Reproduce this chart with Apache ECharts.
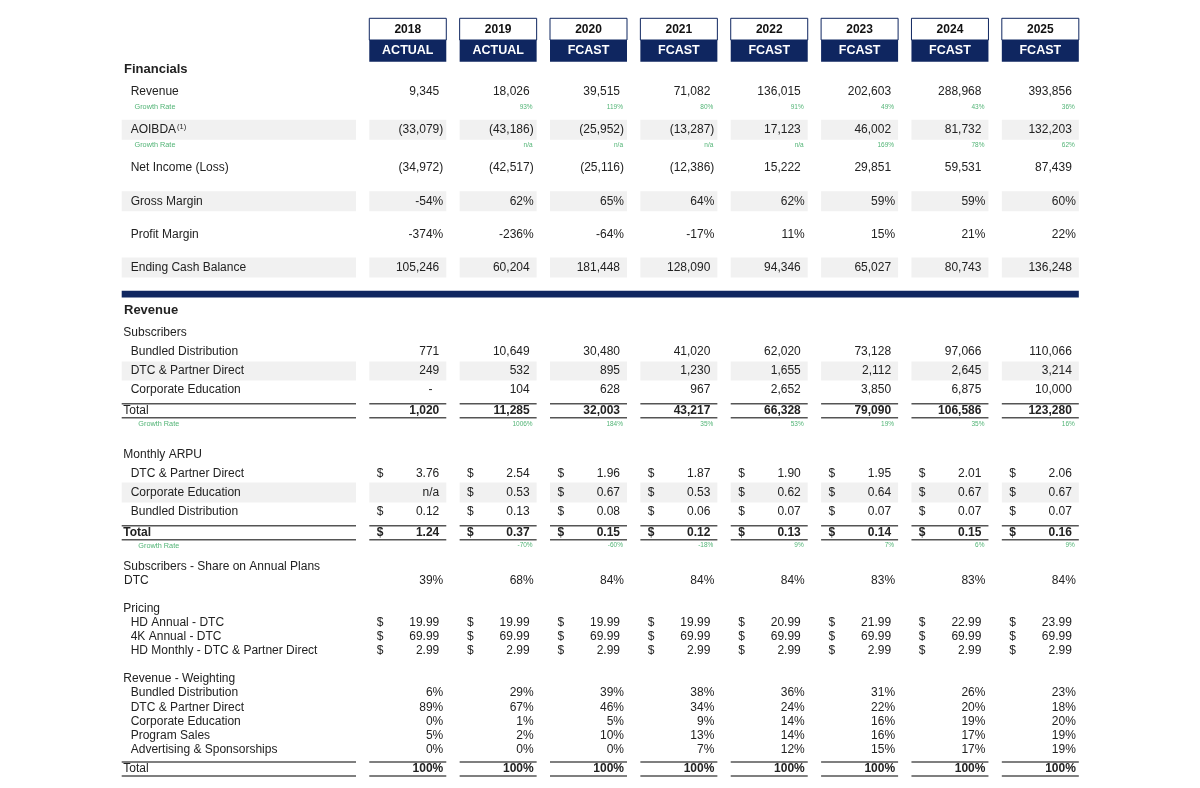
<!DOCTYPE html>
<html>
<head>
<meta charset="utf-8">
<script src="https://cdn.jsdelivr.net/npm/echarts@6/dist/echarts.min.js"></script>
<style>
html,body{margin:0;padding:0;background:#fff;}
#chart{width:1200px;height:788px;}
</style>
</head>
<body>
<div id="chart"></div>
<script>
// ---------------- DATA ----------------
const years = ['2018','2019','2020','2021','2022','2023','2024','2025'];
const phases = ['ACTUAL','ACTUAL','FCAST','FCAST','FCAST','FCAST','FCAST','FCAST'];

const revenue = [9345, 18026, 39515, 71082, 136015, 202603, 288968, 393856];
const revenueGrowth = [null, 93, 119, 80, 91, 49, 43, 36];
const aoibda = [-33079, -43186, -25952, -13287, 17123, 46002, 81732, 132203];
const aoibdaGrowth = [null, 'n/a', 'n/a', 'n/a', 'n/a', 169, 78, 62];
const netIncome = [-34972, -42517, -25116, -12386, 15222, 29851, 59531, 87439];
const grossMargin = [-54, 62, 65, 64, 62, 59, 59, 60];
const profitMargin = [-374, -236, -64, -17, 11, 15, 21, 22];
const endingCash = [105246, 60204, 181448, 128090, 94346, 65027, 80743, 136248];

const subsBundled = [771, 10649, 30480, 41020, 62020, 73128, 97066, 110066];
const subsDTC = [249, 532, 895, 1230, 1655, 2112, 2645, 3214];
const subsCorp = [0, 104, 628, 967, 2652, 3850, 6875, 10000];
const subsTotal = [1020, 11285, 32003, 43217, 66328, 79090, 106586, 123280];
const subsGrowth = [null, 1006, 184, 35, 53, 19, 35, 16];

const arpuDTC = [3.76, 2.54, 1.96, 1.87, 1.90, 1.95, 2.01, 2.06];
const arpuCorp = [null, 0.53, 0.67, 0.53, 0.62, 0.64, 0.67, 0.67];
const arpuBundled = [0.12, 0.13, 0.08, 0.06, 0.07, 0.07, 0.07, 0.07];
const arpuTotal = [1.24, 0.37, 0.15, 0.12, 0.13, 0.14, 0.15, 0.16];
const arpuGrowth = [null, -70, -60, -18, 9, 7, 6, 9];

const annualShareDTC = [39, 68, 84, 84, 84, 83, 83, 84];

const priceHDAnnual = [19.99, 19.99, 19.99, 19.99, 20.99, 21.99, 22.99, 23.99];
const price4KAnnual = [69.99, 69.99, 69.99, 69.99, 69.99, 69.99, 69.99, 69.99];
const priceHDMonthly = [2.99, 2.99, 2.99, 2.99, 2.99, 2.99, 2.99, 2.99];

const wBundled = [6, 29, 39, 38, 36, 31, 26, 23];
const wDTC = [89, 67, 46, 34, 24, 22, 20, 18];
const wCorp = [0, 1, 5, 9, 14, 16, 19, 20];
const wProgram = [5, 2, 10, 13, 14, 16, 17, 19];
const wAds = [0, 0, 0, 7, 12, 15, 17, 19];
const wTotal = [100, 100, 100, 100, 100, 100, 100, 100];

// ---------------- TABLE STRUCTURE ----------------
const rows = [
  {kind: 'header'},
  {kind: 'section', label: 'Financials'},
  {kind: 'item', label: 'Revenue', values: revenue, fmt: 'num'},
  {kind: 'growth', values: revenueGrowth, fin: true},
  {kind: 'item', label: 'AOIBDA', sup: '(1)', values: aoibda, fmt: 'num', shade: true},
  {kind: 'growth', values: aoibdaGrowth, fin: true},
  {kind: 'item', label: 'Net Income (Loss)', values: netIncome, fmt: 'num'},
  {kind: 'item', label: 'Gross Margin', values: grossMargin, fmt: 'pct', shade: true},
  {kind: 'item', label: 'Profit Margin', values: profitMargin, fmt: 'pct'},
  {kind: 'item', label: 'Ending Cash Balance', values: endingCash, fmt: 'num', shade: true},
  {kind: 'rule'},
  {kind: 'section', label: 'Revenue'},
  {kind: 'subhead', label: 'Subscribers'},
  {kind: 'item', label: 'Bundled Distribution', values: subsBundled, fmt: 'num'},
  {kind: 'item', label: 'DTC & Partner Direct', values: subsDTC, fmt: 'num', shade: true, small: true},
  {kind: 'item', label: 'Corporate Education', values: subsCorp, fmt: 'num'},
  {kind: 'total', label: 'Total', values: subsTotal, fmt: 'num'},
  {kind: 'growth', values: subsGrowth},
  {kind: 'subhead', label: 'Monthly ARPU'},
  {kind: 'item', label: 'DTC & Partner Direct', values: arpuDTC, fmt: 'usd'},
  {kind: 'item', label: 'Corporate Education', values: arpuCorp, fmt: 'usd', shade: true},
  {kind: 'item', label: 'Bundled Distribution', values: arpuBundled, fmt: 'usd'},
  {kind: 'total', label: 'Total', boldLabel: true, values: arpuTotal, fmt: 'usd'},
  {kind: 'growth', values: arpuGrowth},
  {kind: 'subhead', label: 'Subscribers - Share on Annual Plans'},
  {kind: 'item', label: 'DTC', values: annualShareDTC, fmt: 'pct', flush: true},
  {kind: 'subhead', label: 'Pricing'},
  {kind: 'item', label: 'HD Annual - DTC', values: priceHDAnnual, fmt: 'usd'},
  {kind: 'item', label: '4K Annual - DTC', values: price4KAnnual, fmt: 'usd'},
  {kind: 'item', label: 'HD Monthly - DTC & Partner Direct', values: priceHDMonthly, fmt: 'usd'},
  {kind: 'subhead', label: 'Revenue - Weighting'},
  {kind: 'item', label: 'Bundled Distribution', values: wBundled, fmt: 'pct'},
  {kind: 'item', label: 'DTC & Partner Direct', values: wDTC, fmt: 'pct'},
  {kind: 'item', label: 'Corporate Education', values: wCorp, fmt: 'pct'},
  {kind: 'item', label: 'Program Sales', values: wProgram, fmt: 'pct'},
  {kind: 'item', label: 'Advertising & Sponsorships', values: wAds, fmt: 'pct'},
  {kind: 'total', label: 'Total', values: wTotal, fmt: 'pct'}
];

// ---------------- LAYOUT (vertical spacing between row centres) ----------------
const ROW_GAPS = [40, 29.3, 22.7, 14.8, 23, 15, 23.2, 33.3, 33.3, 33, 26.5, 16.2,
  22.5, 19.2, 19, 19, 20.8, 13.5, 30.3, 19, 19, 19, 21.2, 12.8, 21.2, 13.5,
  28.7, 13.6, 14, 14, 28, 14.4, 14.3, 14.3, 13.7, 14.3, 19.4];
const rowPos = [];
ROW_GAPS.reduce((acc, g, i) => { rowPos[i] = acc + g; return acc + g; }, 0);

const FONT = "'Liberation Sans', Arial, Helvetica, sans-serif";
const NAVY = '#0f2660';
const TEXT = '#222222';
const GREEN = '#52b476';
const SHADE = '#f1f1f1';
const LINE = '#555555';
const BOX_W = 77;
const LABEL_L = 121.7, LABEL_R = 356;

const mctx = document.createElement('canvas').getContext('2d');
function tw(t, font) { mctx.font = font; return mctx.measureText(t).width; }

function fmtInt(v) { return Math.abs(v).toLocaleString('en-US'); }

function renderRow(params, api) {
  const idx = api.value(2);
  const row = rows[idx];
  const y = api.coord([0, api.value(1)])[1];
  const ch = [];
  const cols = years.map((_, c) => {
    const p = api.coord([c, api.value(1)]);
    return {cx: p[0], left: p[0] - BOX_W / 2, right: p[0] + BOX_W / 2};
  });
  const txt = (text, x, yy, font, fill, align) => ch.push({
    type: 'text',
    style: {text: text, x: x, y: yy, font: font, fill: fill || TEXT, textAlign: align || 'left', textVerticalAlign: 'middle'}
  });
  const rect = (x, yy, w, h, fill, stroke) => ch.push({
    type: 'rect', shape: {x: x, y: yy, width: w, height: h},
    style: {fill: fill, stroke: stroke || null, lineWidth: stroke ? 1 : 0}
  });
  const line = (x1, x2, yy) => ch.push({
    type: 'line', shape: {x1: x1, y1: yy, x2: x2, y2: yy},
    style: {stroke: LINE, lineWidth: 1.5}
  });

  const regular = '12px ' + FONT;
  const bold = 'bold 12px ' + FONT;

  if (row.kind === 'header') {
    cols.forEach((c, i) => {
      rect(c.left, y - 21.7, BOX_W, 21.7, '#ffffff', NAVY);
      rect(c.left, y, BOX_W, 21.7, NAVY);
      txt(years[i], c.cx, y - 10.7, 'bold 12px ' + FONT, '#111', 'center');
      txt(phases[i], c.cx, y + 10.9, 'bold 12.5px ' + FONT, '#ffffff', 'center');
    });
  } else if (row.kind === 'section') {
    txt(row.label, 124, y, 'bold 13px ' + FONT);
  } else if (row.kind === 'subhead') {
    txt(row.label, 123.3, y, regular);
  } else if (row.kind === 'rule') {
    rect(LABEL_L, y - 3.3, cols[cols.length - 1].right - LABEL_L, 6.6, NAVY);
  } else if (row.kind === 'growth') {
    txt('Growth Rate', row.fin ? 134.5 : 138.3, y, '7.3px ' + FONT, GREEN);
    row.values.forEach((v, i) => {
      if (v === null) return;
      const s = typeof v === 'string' ? v : v + '%';
      txt(s, cols[i].right - 4, y, '6.5px ' + FONT, GREEN, 'right');
    });
  } else {
    const isTotal = row.kind === 'total';
    const vf = isTotal ? bold : regular;
    if (row.shade) {
      const hh = row.small ? 9.5 : 10;
      rect(LABEL_L, y - hh, LABEL_R - LABEL_L, hh * 2, SHADE);
      cols.forEach(c => rect(c.left, y - hh, BOX_W, hh * 2, SHADE));
    }
    if (isTotal) {
      line(LABEL_L, LABEL_R, y - 7);
      line(LABEL_L, LABEL_R, y + 7);
      cols.forEach(c => { line(c.left, c.right, y - 7); line(c.left, c.right, y + 7); });
    }
    const lx = isTotal ? 123.3 : (row.flush ? 124 : 130.7);
    txt(row.label, lx, y, row.boldLabel ? bold : regular);
    if (row.sup) {
      txt(row.sup, lx + tw(row.label, regular) + 1, y - 3, '7.5px ' + FONT);
    }
    const paren = tw(')', vf);
    row.values.forEach((v, i) => {
      const c = cols[i];
      const edge = c.right - 3;
      if (row.fmt === 'num') {
        if (v === 0) txt('-', edge - paren - tw('0', vf), y, vf, TEXT, 'right');
        else if (v < 0) txt('(' + fmtInt(v) + ')', edge, y, vf, TEXT, 'right');
        else txt(fmtInt(v), edge - paren, y, vf, TEXT, 'right');
      } else if (row.fmt === 'pct') {
        txt(v + '%', edge, y, vf, TEXT, 'right');
      } else if (row.fmt === 'usd') {
        if (v === null) { txt('n/a', edge - paren, y, vf, TEXT, 'right'); return; }
        txt('$', c.left + 7.4, y, vf);
        txt(v.toFixed(2), edge - paren, y, vf, TEXT, 'right');
      }
    });
  }
  return {type: 'group', children: ch};
}

const chart = echarts.init(document.getElementById('chart'), null, {renderer: 'canvas'});
chart.setOption({
  backgroundColor: '#ffffff',
  animation: false,
  grid: {left: 362.6, right: 114.5, top: 0, bottom: 0, containLabel: false},
  xAxis: {type: 'category', data: years, show: false},
  yAxis: {type: 'value', inverse: true, min: 0, max: 788, show: false},
  series: [{
    type: 'custom',
    coordinateSystem: 'cartesian2d',
    clip: false,
    silent: true,
    encode: {x: 0, y: 1},
    data: rows.map((r, i) => [0, rowPos[i], i]),
    renderItem: renderRow
  }]
});
</script>
</body>
</html>
